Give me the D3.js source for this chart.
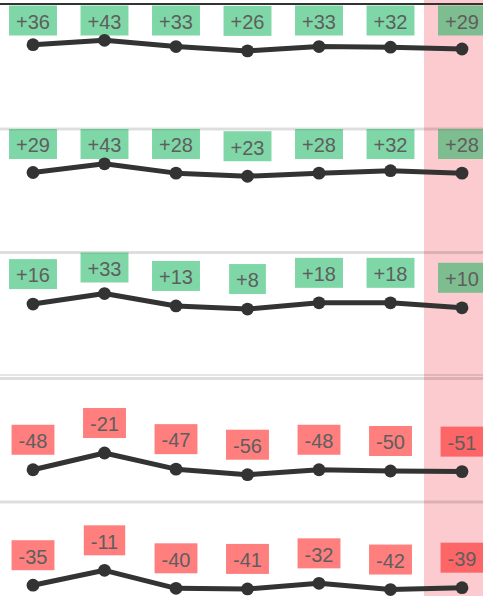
<!DOCTYPE html>
<html>
<head>
<meta charset="utf-8">
<script src="https://cdn.jsdelivr.net/npm/d3@7"></script>
<style>
  html, body { margin: 0; padding: 0; background: #fff; overflow: hidden; }
  svg { display: block; font-family: "Liberation Sans", Arial, sans-serif; }
</style>
</head>
<body>
<div id="chart"></div>
<script>
'use strict';

// columns (not labelled in the picture), the last one is highlighted
const periods = ['P1', 'P2', 'P3', 'P4', 'P5', 'P6', 'P7'];
const highlighted = 'P7';

// one series per row, top to bottom
const row1 = [36, 43, 33, 26, 33, 32, 29];
const row2 = [29, 43, 28, 23, 28, 32, 28];
const row3 = [16, 33, 13, 8, 18, 18, 10];
const row4 = [-48, -21, -47, -56, -48, -50, -51];
const row5 = [-35, -11, -40, -41, -32, -42, -39];

const rows = [row1, row2, row3, row4, row5];

const width = 483;
const height = 596;
const rowHeight = 123.5;

const svg = d3.select('#chart')
  .append('svg')
  .attr('width', width)
  .attr('height', height);

const x = d3.scalePoint()
  .domain(periods)
  .range([33, 462]);

// pink band behind the highlighted column
svg.append('rect')
  .attr('x', x(highlighted) - 38)
  .attr('y', 0)
  .attr('width', width - (x(highlighted) - 38))
  .attr('height', height)
  .attr('fill', '#fccbcf');

// dark rule at the very top
svg.append('rect')
  .attr('x', 0)
  .attr('y', 3)
  .attr('width', width)
  .attr('height', 2)
  .attr('fill', '#333');

// top of each row; the negative block gets an extra rule
const rowTop = (i) => 4 + i * rowHeight + (i >= 3 ? 2.5 : 0);

const line = d3.line();

rows.forEach((values, i) => {
  const top = rowTop(i);
  const g = svg.append('g');

  if (i > 0) {
    g.append('rect')
      .attr('x', 0)
      .attr('y', top)
      .attr('width', width)
      .attr('height', 3)
      .attr('fill', 'rgba(0,0,0,0.13)');
  }
  if (i === 3) {
    g.append('rect')
      .attr('x', 0)
      .attr('y', top - 3)
      .attr('width', width)
      .attr('height', 2)
      .attr('fill', 'rgba(0,0,0,0.1)');
  }

  const y = d3.scaleLinear()
    .domain([-100, 100])
    .range([top + 125, top + 1]);

  const pts = values.map((v, j) => ({ p: periods[j], v }));

  // value labels in tinted boxes above each point
  const labels = g.selectAll('g.label')
    .data(pts)
    .join('g')
    .attr('class', 'label');

  labels.append('text')
    .attr('text-anchor', 'middle')
    .attr('font-size', 20)
    .attr('fill', '#5e5e5e')
    .attr('x', (d) => x(d.p))
    .attr('y', (d) => Math.max(y(d.v) - 45, top + 1.5) + 23.3)
    .text((d) => (d.v > 0 ? '+' : '') + d.v);

  labels.each(function (d) {
    const el = d3.select(this);
    const w = el.select('text').node().getComputedTextLength() + 14;
    el.insert('rect', 'text')
      .attr('x', x(d.p) - w / 2)
      .attr('y', Math.max(y(d.v) - 45, top + 1.5))
      .attr('width', w)
      .attr('height', 30)
      .attr('fill', d.v >= 0 ? '#00b050' : '#ff0000')
      .attr('fill-opacity', 0.5);
  });

  g.append('path')
    .attr('d', line(pts.map((d) => [x(d.p), y(d.v)])))
    .attr('fill', 'none')
    .attr('stroke', '#333')
    .attr('stroke-width', 5)
    .attr('stroke-linejoin', 'round');

  g.selectAll('circle')
    .data(pts)
    .join('circle')
    .attr('cx', (d) => x(d.p))
    .attr('cy', (d) => y(d.v))
    .attr('r', 6.4)
    .attr('fill', '#333');
});
</script>
</body>
</html>
